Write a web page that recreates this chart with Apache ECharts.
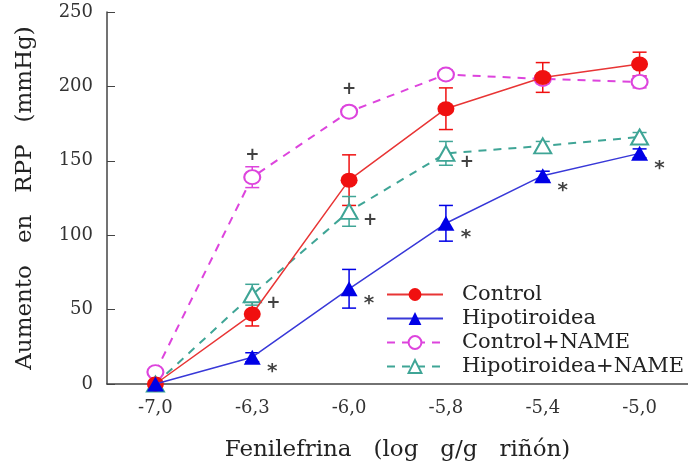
<!DOCTYPE html>
<html>
<head>
<meta charset="utf-8">
<script src="https://cdn.jsdelivr.net/npm/echarts@6/dist/echarts.min.js"></script>
<style>html,body{margin:0;padding:0;background:#fff}#c{width:688px;height:473px}</style>
</head>
<body>
<div id="c"></div>
<script>
// ---- data ----
var categories = ['-7,0', '-6,3', '-6,0', '-5,8', '-5,4', '-5,0'];
var control = [0, 47, 137, 185, 206, 215];
var controlErr = [0, 8, 17, 14, 10, 8];
var hipo = [0, 18, 64, 108, 140, 155];
var hipoErr = [0, 3, 13, 12, 3, 3];
var controlName = [8, 139, 183, 208, 205, 203];
var controlNameErr = [0, 7, 3, 3, 3, 4];
var hipoName = [0, 60, 116, 155, 160, 166];
var hipoNameErr = [0, 7, 10, 8, 3, 3];
var hipoSig = ['', '*', '*', '*', '*', '*'];
var hipoNameSig = ['', '+', '+', '+', '', ''];
var controlNameSig = ['', '+', '+', '', '', ''];
var yTicks = [0, 50, 100, 150, 200, 250];

var SERIF = 'DejaVu Serif';
var RED = '#f01010', BLUE = '#0000e6', MAG = '#dd44dd', TEAL = '#3fa596';

function errData(vals, errs) {
  return vals.map(function (v, i) { return [i, v, errs[i]]; });
}
function errSeries(vals, errs, color, z) {
  return {
    type: 'custom', z: z, silent: true,
    data: errData(vals, errs),
    renderItem: function (params, api) {
      var x = api.value(0), y = api.value(1), e = api.value(2);
      if (!e) return null;
      var t = api.coord([x, y + e]), b = api.coord([x, y - e]);
      var hw = 7, st = { stroke: color, lineWidth: 1.5 };
      return { type: 'group', children: [
        { type: 'line', shape: { x1: t[0], y1: t[1], x2: b[0], y2: b[1] }, style: st },
        { type: 'line', shape: { x1: t[0] - hw, y1: t[1], x2: t[0] + hw, y2: t[1] }, style: st },
        { type: 'line', shape: { x1: b[0] - hw, y1: b[1], x2: b[0] + hw, y2: b[1] }, style: st }
      ] };
    }
  };
}
function sigSeries(vals, sig, offset, size) {
  return {
    type: 'scatter', z: 20, silent: true, symbolSize: 0,
    data: vals.map(function (v, i) { return sig[i] ? [i, v] : null; }),
    label: {
      show: true, position: 'inside', offset: offset,
      formatter: function (p) { return sig[p.dataIndex]; },
      color: '#111', fontWeight: 'bold', fontSize: size, fontFamily: 'DejaVu Sans'
    }
  };
}

var chart = echarts.init(document.getElementById('c'));
chart.setOption({
  animation: false,
  backgroundColor: '#fff',
  grid: { left: 107, right: 0, top: 12, bottom: 89 },
  legend: {
    orient: 'vertical', left: 381, top: 279, itemGap: 3,
    itemWidth: 56, itemHeight: 16,
    data: ['Control', 'Hipotiroidea', 'Control+NAME', 'Hipotiroidea+NAME'],
    textStyle: { fontFamily: SERIF, fontSize: 21, color: '#222', padding: [0, 0, 0, 14] }
  },
  xAxis: {
    type: 'category', data: categories, boundaryGap: true,
    name: 'Fenilefrina   (log   g/g   riñón)', nameLocation: 'middle', nameGap: 55,
    nameTextStyle: { fontFamily: SERIF, fontSize: 23, color: '#222' },
    axisLine: { lineStyle: { color: '#444', width: 1.5 } },
    axisTick: { alignWithLabel: true, inside: true, length: 5, lineStyle: { color: '#444' } },
    axisLabel: { fontFamily: SERIF, fontSize: 18, color: '#333', margin: 15 }
  },
  yAxis: {
    type: 'value', min: 0, max: 250, interval: 50,
    name: 'Aumento   en   RPP   (mmHg)', nameLocation: 'middle', nameGap: 70,
    nameTextStyle: { fontFamily: SERIF, fontSize: 23, color: '#222' },
    splitLine: { show: false },
    axisLine: { show: true, lineStyle: { color: '#444', width: 1.5 } },
    axisTick: { show: true, inside: true, length: 8, lineStyle: { color: '#444' } },
    axisLabel: { fontFamily: SERIF, fontSize: 18, color: '#333', margin: 14,
      formatter: function (v) { return yTicks.indexOf(v) >= 0 ? String(v) : ''; } }
  },
  series: [
    { name: 'Control', type: 'line', z: 12, data: control,
      symbol: 'circle', symbolSize: [17, 15],
      itemStyle: { color: RED }, lineStyle: { color: '#e83535', width: 1.5 } },
    { name: 'Hipotiroidea', type: 'line', z: 13, data: hipo,
      symbol: 'triangle', symbolSize: [17, 15],
      itemStyle: { color: BLUE }, lineStyle: { color: '#3838d8', width: 1.5 } },
    { name: 'Control+NAME', type: 'line', z: 10, data: controlName,
      symbol: 'emptyCircle', symbolSize: [16, 14],
      itemStyle: { color: MAG, borderWidth: 1.5 }, lineStyle: { color: MAG, width: 2, type: [8, 7] } },
    { name: 'Hipotiroidea+NAME', type: 'line', z: 11, data: hipoName,
      symbol: 'emptyTriangle', symbolSize: [17, 15],
      itemStyle: { color: TEAL, borderWidth: 1.5 }, lineStyle: { color: TEAL, width: 2, type: [8, 7] } },
    errSeries(control, controlErr, RED, 5),
    errSeries(hipo, hipoErr, BLUE, 5),
    errSeries(controlName, controlNameErr, MAG, 5),
    errSeries(hipoName, hipoNameErr, TEAL, 5),
    sigSeries(hipo, hipoSig, [20, 15], 20),
    sigSeries(hipoName, hipoNameSig, [21, 9], 17),
    sigSeries(controlName, controlNameSig, [0, -22], 17)
  ]
});
</script>
</body>
</html>
